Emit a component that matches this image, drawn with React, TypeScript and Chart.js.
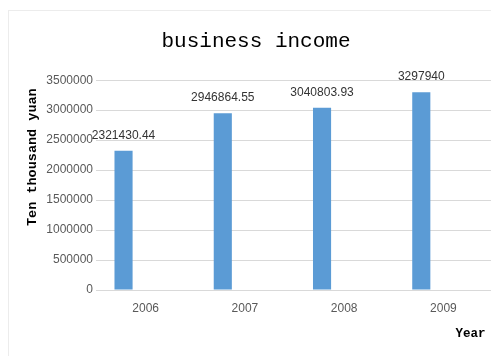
import React, { useEffect, useRef } from "react";
import { Chart, registerables } from "chart.js";

Chart.register(...registerables);

const categories = ["2006", "2007", "2008", "2009"];
const incomeValues = [2321430.44, 2946864.55, 3040803.93, 3297940];
const incomeLabels = ["2321430.44", "2946864.55", "3040803.93", "3297940"];
const emptySeries = [null, null, null, null];
const yTickMax = 3500000;
const yTickStep = 500000;

const chartTitle = "business income";
const yTitle = "Ten thousand yuan ";
const xTitle = "Year ";

const valueLabelPlugin = {
  id: "valueLabels",
  afterDatasetsDraw(chart: any) {
    const ctx = chart.ctx;
    const meta = chart.getDatasetMeta(0);
    ctx.save();
    ctx.font = "12px 'Liberation Sans', Arial, sans-serif";
    ctx.fillStyle = "#333333";
    ctx.textAlign = "center";
    ctx.textBaseline = "alphabetic";
    meta.data.forEach((bar: any, i: number) => {
      ctx.fillText(incomeLabels[i], bar.x, bar.y - 12);
    });
    ctx.restore();
  },
};

export default function App() {
  const canvasRef = useRef<HTMLCanvasElement | null>(null);

  useEffect(() => {
    if (!canvasRef.current) return;
    const chart = new Chart(canvasRef.current, {
      type: "bar",
      data: {
        labels: categories,
        datasets: [
          {
            label: "business income",
            data: incomeValues,
            backgroundColor: "#5B9BD5",
            borderWidth: 0,
            categoryPercentage: 0.89,
            barPercentage: 0.41,
          },
          {
            label: "empty",
            data: emptySeries,
            backgroundColor: "#ED7D31",
            borderWidth: 0,
            categoryPercentage: 0.89,
            barPercentage: 0.41,
          },
        ],
      },
      options: {
        responsive: false,
        animation: false,
        layout: { padding: { left: 10, right: 6, top: 0, bottom: 8 } },
        plugins: {
          legend: { display: false },
          tooltip: { enabled: false },
          title: {
            display: true,
            text: chartTitle,
            color: "#000000",
            font: { family: "'Liberation Mono', monospace", size: 21, weight: "normal" },
            padding: { top: 18, bottom: 26 },
          },
        },
        scales: {
          x: {
            grid: { display: false, drawTicks: false },
            border: { display: true, color: "#d9d9d9" },
            ticks: {
              color: "#595959",
              font: { family: "'Liberation Sans', Arial, sans-serif", size: 12 },
              padding: 11,
            },
            title: {
              display: true,
              text: xTitle,
              align: "end",
              color: "#000000",
              font: { family: "'Liberation Mono', monospace", size: 12.5, weight: "bold" },
              padding: { top: 0, bottom: 7 },
            },
            afterFit(scale: any) {
              scale.height = 58;
            },
          },
          y: {
            min: 0,
            max: yTickMax,
            grid: { color: "#d9d9d9", drawTicks: false },
            border: { display: false },
            ticks: {
              stepSize: yTickStep,
              color: "#595959",
              font: { family: "'Liberation Sans', Arial, sans-serif", size: 12 },
              padding: 3,
              callback: (v: any) => String(v),
            },
            title: {
              display: true,
              text: yTitle,
              align: "end",
              color: "#000000",
              font: { family: "'Liberation Mono', monospace", size: 13.5, weight: "bold" },
              padding: { top: 5, bottom: 0 },
            },
            afterFit(scale: any) {
              scale.width = 77;
            },
          },
        },
      },
      plugins: [valueLabelPlugin],
    });
    return () => chart.destroy();
  }, []);

  return (
    <div style={{ paddingTop: 2 }}>
      <div
        style={{
          width: 491,
          height: 346,
          boxSizing: "border-box",
          borderTop: "1px solid #ececec",
          borderLeft: "1px solid #ececec",
          background: "#ffffff",
        }}
      >
        <canvas ref={canvasRef} width={490} height={345} style={{ display: "block" }} />
      </div>
    </div>
  );
}
